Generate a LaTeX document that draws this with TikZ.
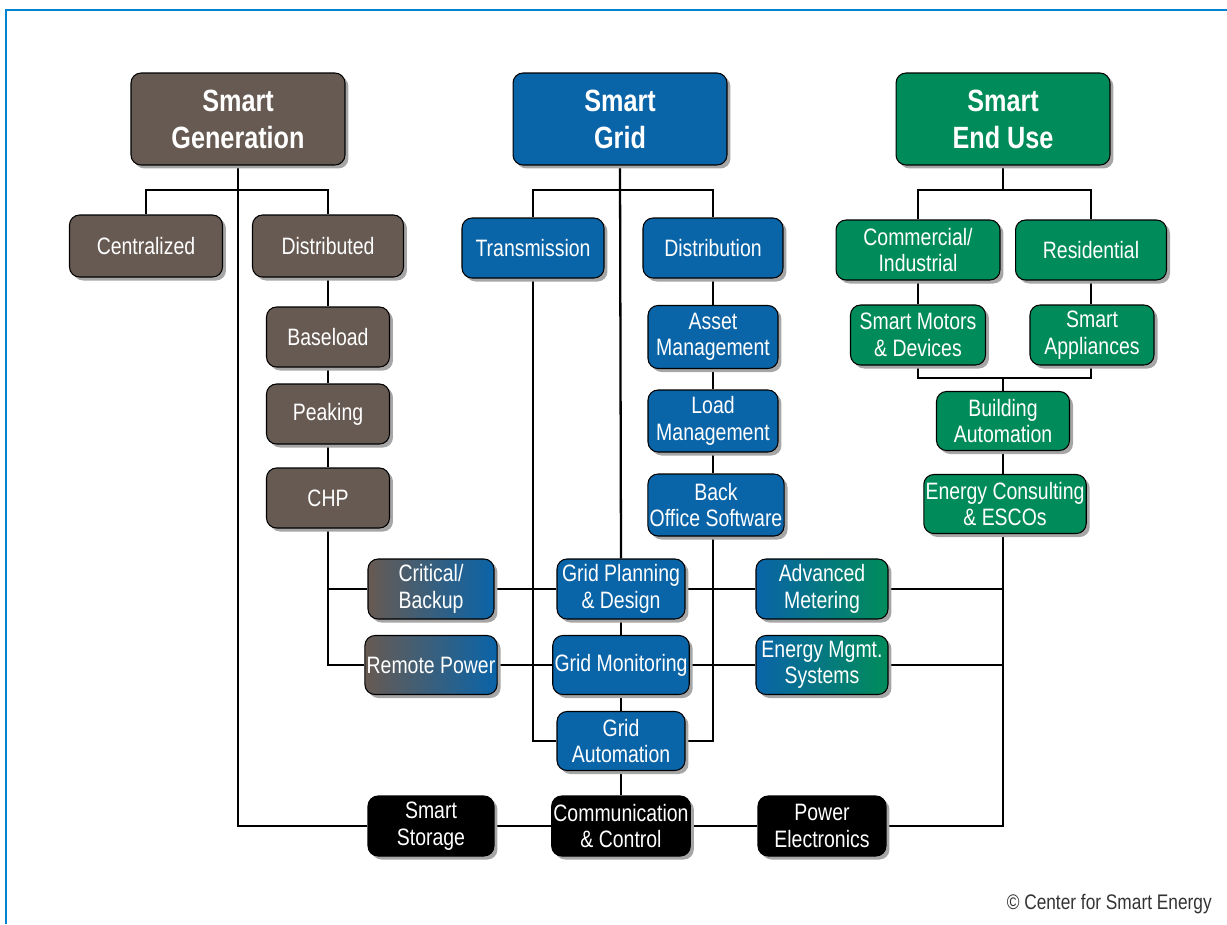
\documentclass[tikz,border=0pt]{standalone}
\usepackage{fontspec}
\setmainfont[FakeStretch=0.82]{Liberation Sans}
\usetikzlibrary{shadows,backgrounds}
\definecolor{genbrown}{RGB}{103,90,82}
\definecolor{gridblue}{RGB}{10,100,168}
\definecolor{usegreen}{RGB}{0,140,90}
\definecolor{frameblue}{RGB}{0,130,210}
\begin{document}
\begin{tikzpicture}[x=0.02cm,y=-0.02cm]
\useasboundingbox (0,0) rectangle (1227,924);
% Styles
\tikzset{box/.style={draw=black, line width=0.6pt, rounded corners=0.2cm, text=white, align=center,
  inner sep=1pt, minimum width=2.5cm, minimum height=1.2cm, font=\fontsize{13.5}{15}\selectfont,
  drop shadow={shadow xshift=0.07cm, shadow yshift=-0.07cm, fill=black!35, opacity=1}}}
\tikzset{headbox/.style={box, minimum width=4.28cm, minimum height=1.84cm, font=\bfseries\fontsize{17.5}{21}\selectfont}}
\tikzset{genbox/.style={box, fill=genbrown}}
\tikzset{gridbox/.style={box, fill=gridblue}}
\tikzset{usebox/.style={box, fill=usegreen}}
\tikzset{techbox/.style={box, fill=black}}
\tikzset{mixbox/.style={box, left color=genbrown, right color=gridblue}}
\tikzset{meterbox/.style={box, left color=gridblue, right color=usegreen}}
\tikzset{conn/.style={line width=1.3pt, black}}

% Frame
\draw[frameblue, line width=1.2pt] (6,924) -- (6,10) -- (1227,10);

% Top level
\node[headbox, fill=genbrown] (sgen) at (238,119) {Smart\\Generation};
\node[headbox, fill=gridblue] (sgrid) at (620,119) {Smart\\Grid};
\node[headbox, fill=usegreen] (suse) at (1003,119) {Smart\\End Use};

% Smart generation
\node[genbox, minimum width=3.06cm, minimum height=1.24cm] (cent) at (146,246) {Centralized};
\node[genbox, minimum width=3.02cm, minimum height=1.24cm] (dist) at (328,246) {Distributed};
\node[genbox, minimum width=2.46cm] (base) at (328,337) {Baseload};
\node[genbox, minimum width=2.46cm] (peak) at (328,414) {Peaking};
\node[genbox, minimum width=2.46cm] (chp) at (328,498) {CHP};

% Smart grid
\node[gridbox, minimum width=2.84cm] (trans) at (533,248) {Transmission};
\node[gridbox, minimum width=2.8cm] (distr) at (713,248) {Distribution};
\node[gridbox, minimum width=2.6cm, minimum height=1.26cm] (asset) at (713,337) {Asset\\Management};
\node[gridbox, minimum width=2.6cm, minimum height=1.24cm] (load) at (713,421) {Load\\Management};
\node[gridbox, minimum width=2.72cm, minimum height=1.24cm] (back) at (716,505) {Back\\Office Software};

% Smart end use
\node[usebox, minimum width=3.28cm] (comm) at (918,250) {Commercial/\\Industrial};
\node[usebox, minimum width=3.02cm] (resi) at (1091,250) {Residential};
\node[usebox, minimum width=2.7cm] (motor) at (918,335) {Smart Motors\\\& Devices};
\node[usebox, minimum width=2.48cm] (appl) at (1092,335) {Smart\\Appliances};
\node[usebox, minimum width=2.66cm, minimum height=1.18cm] (build) at (1003,421) {Building\\Automation};
\node[usebox, minimum width=2.8cm, minimum height=1.18cm] (esco) at (1005,504) {Energy Consulting\\\& ESCOs};

% Middle rows
\node[mixbox, minimum width=2.52cm] (crit) at (431,589) {Critical/\\Backup};
\node[mixbox, minimum width=2.52cm, minimum height=1.18cm] (remote) at (431,665) {Remote Power};
\node[gridbox, minimum width=2.56cm] (plan) at (621,589) {Grid Planning\\\& Design};
\node[gridbox, minimum width=2.56cm, minimum height=1.18cm] (monit) at (621,665) {Grid Monitoring};
\node[gridbox, minimum width=2.56cm, minimum height=1.18cm] (autom) at (621,741) {Grid\\Automation};
\node[meterbox, minimum width=2.64cm] (meter) at (822,589) {Advanced\\Metering};
\node[meterbox, minimum width=2.64cm, minimum height=1.18cm] (emgmt) at (822,665) {Energy Mgmt.\\Systems};

% Bottom row
\node[techbox, minimum width=2.52cm] (store) at (431,826) {Smart\\Storage};
\node[techbox, minimum width=2.56cm] (ctrl) at (621,826) {Communication\\\& Control};
\node[techbox, minimum width=2.56cm] (power) at (822,826) {Power\\Electronics};

% Copyright
\node[anchor=south east, inner sep=0pt, text=black!80, font=\fontsize{12}{14}\selectfont] (copy) at (1212,914) {© Center for Smart Energy};

% Connectors
\begin{scope}[on background layer]
\coordinate (genbus) at (238,190);
\coordinate (gridbus) at (620,190);
\coordinate (usebus) at (1003,190);
\coordinate (bldbus) at (1003,378);
\draw[conn] (sgen.south) -- (genbus);
\draw[conn] (cent.north) |- (genbus) -| (dist.north);
\draw[conn] (genbus) |- (store.west);
\draw[conn] (dist.south) -- (base.north);
\draw[conn] (base.south) -- (peak.north);
\draw[conn] (peak.south) -- (chp.north);
\draw[conn] (chp.south) |- (crit.west);
\draw[conn] (chp.south) |- (remote.west);
\draw[conn] (sgrid.south) -- (plan.north);
\draw[conn] (trans.north) |- (gridbus) -| (distr.north);
\draw[conn] (trans.south) |- (autom.west);
\draw[conn] (distr.south) -- (asset.north);
\draw[conn] (asset.south) -- (load.north);
\draw[conn] (load.south) -- (back.north -| load.south);
\draw[conn] (back.south -| load.south) |- (autom.east);
\draw[conn] (plan.south) -- (monit.north);
\draw[conn] (monit.south) -- (autom.north);
\draw[conn] (autom.south) -- (ctrl.north);
\draw[conn] (suse.south) -- (usebus);
\draw[conn] (comm.north) |- (usebus) -| (resi.north);
\draw[conn] (comm.south) -- (motor.north);
\draw[conn] (resi.south) -- (appl.north -| resi.south);
\draw[conn] (motor.south) |- (bldbus) -| (appl.south -| resi.south);
\draw[conn] (bldbus) -- (build.north);
\draw[conn] (build.south) -- (esco.north -| build.south);
\draw[conn] (crit.east) -- (plan.west);
\draw[conn] (plan.east) -- (meter.west);
\draw[conn] (meter.east) -| (esco.south -| build.south);
\draw[conn] (remote.east) -- (monit.west);
\draw[conn] (monit.east) -- (emgmt.west);
\draw[conn] (emgmt.east) -| (esco.south -| build.south);
\draw[conn] (store.east) -- (ctrl.west);
\draw[conn] (ctrl.east) -- (power.west);
\draw[conn] (power.east) -| (esco.south -| build.south);
\end{scope}
\end{tikzpicture}
\end{document}
